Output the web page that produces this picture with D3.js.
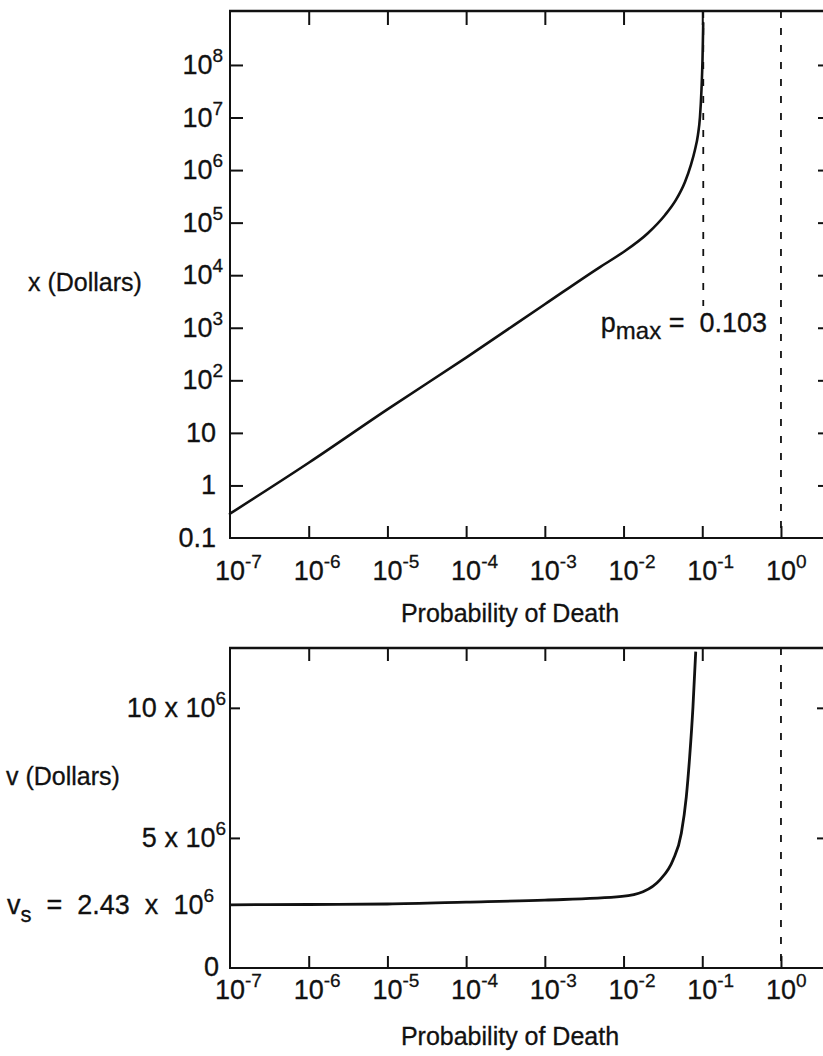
<!DOCTYPE html>
<html>
<head>
<meta charset="utf-8">
<script src="https://cdn.jsdelivr.net/npm/d3@7"></script>
<style>
  html, body { margin: 0; padding: 0; background: #fff; }
  svg { display: block; }
  text { font-family: "Liberation Sans", Arial, Helvetica, sans-serif; fill: #111;
         stroke: #111; stroke-width: 0.3px; white-space: pre; }
</style>
</head>
<body>
<script>
// Decade exponents shared by both probability axes
const probExponents = [-7, -6, -5, -4, -3, -2, -1, 0];

// Upper panel: x (dollars) versus probability of death, log-log
const xTickValues = [0.1, 1, 10, 1e2, 1e3, 1e4, 1e5, 1e6, 1e7, 1e8];
const xTickExponents = [null, null, null, 2, 3, 4, 5, 6, 7, 8];
const xTickPlain = ["0.1", "1", "10"];
const xProb = [1e-7, 1e-6, 1e-5, 1e-4, 1e-3, 0.00502, 0.00955, 0.0205, 0.0337, 0.0463,
               0.0603, 0.0718, 0.0807, 0.0881, 0.0935, 0.0977, 0.1007, 0.1019, 0.1028];
const xDollars = [0.29, 2.7, 28, 270, 2800, 14300, 26400, 63500, 140000, 270000,
                  593000, 1.25e6, 2.41e6, 4.65e6, 1.02e7, 3.34e7, 1.24e8, 2.99e8, 6.3e8];
const pMax = 0.103;

// Lower panel: v (dollars) versus probability of death, linear value axis
const vTickValues = [5e6, 10e6];
const vTickLabels = ["5 x 10", "10 x 10"];
const vS = 2.43e6;
const vProb = [1e-7, 1e-6, 1e-5, 1e-4, 1e-3, 0.00955, 0.01766, 0.0288, 0.0425,
               0.0542, 0.0627, 0.0692, 0.0762, 0.0826];
const vDollars = [2.43e6, 2.44e6, 2.46e6, 2.53e6, 2.61e6, 2.75e6, 2.93e6, 3.38e6, 4.15e6,
                  5.18e6, 6.58e6, 8.12e6, 10.04e6, 12.16e6];

const W = 823, H = 1056;
const svg = d3.select("body").append("svg").attr("width", W).attr("height", H);

const LEFT = 230, RIGHT = 831;
const DEC = 78.71;                     // pixels per decade of probability
const pLeft = 1e-7;
const pRight = Math.pow(10, (RIGHT - LEFT) / DEC - 7);

const TICK_FONT = 27, EXP_FONT = 19, TITLE_FONT = 25, EXP_DY = -12;

// width of the "10" base, used to centre it under a tick
const probe = svg.append("text").style("font-size", TICK_FONT + "px").text("10");
const w10 = probe.node().getComputedTextLength();
probe.remove();

function powText(g, x, y, base, exp, anchor) {
  const t = g.append("text").attr("x", x).attr("y", y)
    .attr("text-anchor", anchor).style("font-size", TICK_FONT + "px");
  t.append("tspan").text(base);
  if (exp !== null && exp !== undefined) {
    t.append("tspan").attr("dy", EXP_DY).style("font-size", EXP_FONT + "px").text(exp);
  }
  return t;
}

function styleAxis(g) {
  g.select(".domain").remove();
  g.selectAll(".tick line").attr("stroke", "#111").attr("stroke-width", 2);
  g.selectAll(".tick text").remove();
}

function probAxes(g, x, top, bottom, topTickLen, botTickLen, labelY) {
  // frame: left axis, top border, bottom axis
  g.append("line").attr("x1", LEFT).attr("x2", LEFT).attr("y1", top).attr("y2", bottom)
    .attr("stroke", "#111").attr("stroke-width", 2);
  g.append("line").attr("x1", LEFT - 1).attr("x2", RIGHT).attr("y1", top).attr("y2", top)
    .attr("stroke", "#111").attr("stroke-width", 2.5);
  g.append("line").attr("x1", LEFT - 1).attr("x2", RIGHT).attr("y1", bottom).attr("y2", bottom)
    .attr("stroke", "#111").attr("stroke-width", 2.2);

  const decades = probExponents.map(e => Math.pow(10, e));
  g.append("g").attr("transform", `translate(0,${bottom})`)
    .call(d3.axisBottom(x).tickValues(decades.slice(1)).tickSize(-botTickLen).tickFormat(""))
    .call(styleAxis);
  g.append("g").attr("transform", `translate(0,${top})`)
    .call(d3.axisTop(x).tickValues(decades.slice(1, -1)).tickSize(-topTickLen).tickFormat(""))
    .call(styleAxis);

  // decade labels: "10" centred on the tick, exponent raised to its right
  probExponents.forEach(e => {
    powText(g, x(Math.pow(10, e)) - w10 / 2, labelY, "10", String(e), "start");
  });

  // dashed line at probability one
  g.append("line").attr("x1", x(1)).attr("x2", x(1)).attr("y1", top).attr("y2", bottom)
    .attr("stroke", "#111").attr("stroke-width", 1.8).attr("stroke-dasharray", "7,10");
}

/* ---------------- upper panel ---------------- */
const T_TOP = 11, T_BOT = 538;
const xT = d3.scaleLog().domain([pLeft, pRight]).range([LEFT, RIGHT]);
const yT = d3.scaleLog().domain([0.1, Math.pow(10, (T_BOT - T_TOP) / 52.56 - 1)]).range([T_BOT, T_TOP]);

const gT = svg.append("g");
probAxes(gT, xT, T_TOP, T_BOT, 14, 12, 580);

gT.append("g").attr("transform", `translate(${LEFT},0)`)
  .call(d3.axisLeft(yT).tickValues(xTickValues.slice(1)).tickSize(-13).tickFormat(""))
  .call(styleAxis);
gT.append("g").attr("transform", `translate(${RIGHT},0)`)
  .call(d3.axisRight(yT).tickValues(xTickValues.slice(1)).tickSize(-13).tickFormat(""))
  .call(styleAxis);

xTickValues.forEach((v, i) => {
  const plain = i < xTickPlain.length;
  powText(gT, plain ? 216 : 223, yT(v) + 9, plain ? xTickPlain[i] : "10", xTickExponents[i], "end");
});

// p_max marker
gT.append("line").attr("x1", xT(pMax)).attr("x2", xT(pMax)).attr("y1", T_TOP).attr("y2", 306)
  .attr("stroke", "#111").attr("stroke-width", 1.8).attr("stroke-dasharray", "7,10");
const pl = gT.append("text").attr("x", 767).attr("y", 332).attr("text-anchor", "end")
  .style("font-size", TICK_FONT + "px");
pl.append("tspan").text("p");
pl.append("tspan").attr("dy", 7).style("font-size", "24px").text("max");
pl.append("tspan").attr("dy", -7).text(" =  " + pMax.toFixed(3));

gT.append("text").attr("x", 28).attr("y", 291).style("font-size", TITLE_FONT + "px").text("x (Dollars)");
gT.append("text").attr("x", 510).attr("y", 622).attr("text-anchor", "middle")
  .style("font-size", TITLE_FONT + "px").text("Probability of Death");

const topSeries = xProb.map((p, i) => ({ p, v: xDollars[i] }));
gT.append("path").datum(topSeries)
  .attr("fill", "none").attr("stroke", "#111").attr("stroke-width", 2.6)
  .attr("stroke-linejoin", "round").attr("stroke-linecap", "round")
  .attr("d", d3.line().x(d => xT(d.p)).y(d => yT(d.v)).curve(d3.curveMonotoneX));

/* ---------------- lower panel ---------------- */
const B_TOP = 648, B_BOT = 968;
const xB = d3.scaleLog().domain([pLeft, pRight]).range([LEFT, RIGHT]);
const yB = d3.scaleLinear().domain([0, 12.3e6]).range([B_BOT, B_TOP]);

const gB = svg.append("g");
probAxes(gB, xB, B_TOP, B_BOT, 13, 12, 999);

gB.append("g").attr("transform", `translate(${LEFT},0)`)
  .call(d3.axisLeft(yB).tickValues(vTickValues).tickSize(-10).tickFormat(""))
  .call(styleAxis);
gB.append("g").attr("transform", `translate(${RIGHT},0)`)
  .call(d3.axisRight(yB).tickValues(vTickValues).tickSize(-14).tickFormat(""))
  .call(styleAxis);

vTickValues.forEach((v, i) => {
  powText(gB, 226, yB(v) + 9, vTickLabels[i], "6", "end");
});
gB.append("text").attr("x", 219).attr("y", yB(0) + 8).attr("text-anchor", "end")
  .style("font-size", TICK_FONT + "px").text("0");

const vl = gB.append("text").attr("x", 214).attr("y", yB(vS) + 9).attr("text-anchor", "end")
  .style("font-size", TICK_FONT + "px");
vl.append("tspan").text("v");
vl.append("tspan").attr("dy", 8).style("font-size", "22px").text("s");
vl.append("tspan").attr("dy", -8).text("  =  " + (vS / 1e6).toFixed(2) + "  x  10");
vl.append("tspan").attr("dy", EXP_DY).style("font-size", EXP_FONT + "px").text("6");

gB.append("text").attr("x", 6).attr("y", 785).style("font-size", TITLE_FONT + "px").text("v (Dollars)");
gB.append("text").attr("x", 510).attr("y", 1045).attr("text-anchor", "middle")
  .style("font-size", TITLE_FONT + "px").text("Probability of Death");

svg.append("clipPath").attr("id", "clipB").append("rect")
  .attr("x", LEFT).attr("y", B_TOP).attr("width", RIGHT - LEFT).attr("height", B_BOT - B_TOP);

const botSeries = vProb.map((p, i) => ({ p, v: vDollars[i] }));
gB.append("path").datum(botSeries).attr("clip-path", "url(#clipB)")
  .attr("fill", "none").attr("stroke", "#111").attr("stroke-width", 2.8)
  .attr("stroke-linejoin", "round")
  .attr("d", d3.line().x(d => xB(d.p)).y(d => yB(d.v)).curve(d3.curveMonotoneX));
</script>
</body>
</html>
